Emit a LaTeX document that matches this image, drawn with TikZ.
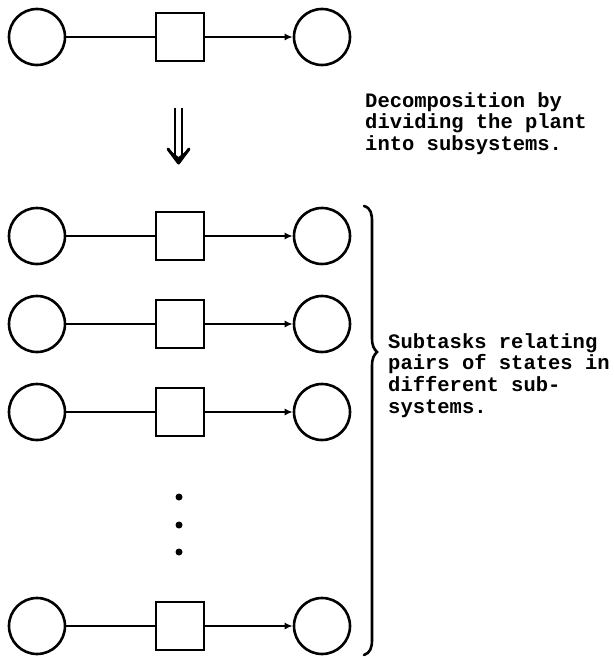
\documentclass[tikz,border=0pt]{standalone}
\usepackage{fontspec}
\setmonofont{Liberation Mono}
\usetikzlibrary{arrows.meta}

\tikzset{
  state/.style={circle, draw, line width=2.6pt, minimum size=56pt, inner sep=0pt},
  task/.style={rectangle, draw, line width=2.6pt, minimum size=48pt, inner sep=0pt},
  link/.style={line width=2.4pt},
  flow/.style={line width=2.4pt, -{Latex[length=8pt,width=7pt]}},
  note/.style={align=left, inner sep=0pt, anchor=north west,
    font=\ttfamily\bfseries\fontsize{20.5}{21.7}\selectfont},
  dot/.style={circle, fill, minimum size=7pt, inner sep=0pt},
}

\begin{document}
\begin{tikzpicture}[x=1pt, y=-1pt]
  \useasboundingbox (0,0) rectangle (613,658);

  % one chain: state -- task -> state, at each row height
  \foreach \row/\yy in {t/37, r1/236, r2/324, r3/412, rn/626} {
    \node[state] (\row-a) at (37,\yy) {};
    \node[task]  (\row-b) at (180,\yy) {};
    \node[state] (\row-c) at (322,\yy) {};
    \draw[link] (\row-a) -- (\row-b);
    \draw[flow] (\row-b) -- (\row-c);
  }

  % decomposition arrow (double shaft, heavy head)
  \coordinate (dtip) at (178.5,163);
  \draw[line width=2.4pt] (175,108) -- (175,156);
  \draw[line width=2.4pt] (182,108) -- (182,156);
  \fill (168,149) -- (dtip) -- (189,149) -- (178.5,157) -- cycle;
  \draw[line width=3pt, line join=round, line cap=round] (168,149) -- (dtip) -- (189,149);

  % vertical ellipsis
  \node[dot] (d1) at (179,497) {};
  \node[dot] (d2) at (179,525) {};
  \node[dot] (d3) at (179,552) {};

  % brace round the subtasks
  \draw[line width=2.6pt, line cap=round]
    (364,206) .. controls (371,208) and (372,214) .. (372,222)
    -- (372,338) .. controls (372,346) and (374,349) .. (377,352)
    .. controls (374,355) and (372,358) .. (372,366)
    -- (372,640) .. controls (372,648) and (370,653) .. (364,655);

  \node[note] (decomp) at (365,92) {Decomposition by\\dividing the plant\\into subsystems.};
  \node[note] (subtasks) at (388,333) {Subtasks relating\\pairs of states in\\different sub-\\systems.};
\end{tikzpicture}
\end{document}
